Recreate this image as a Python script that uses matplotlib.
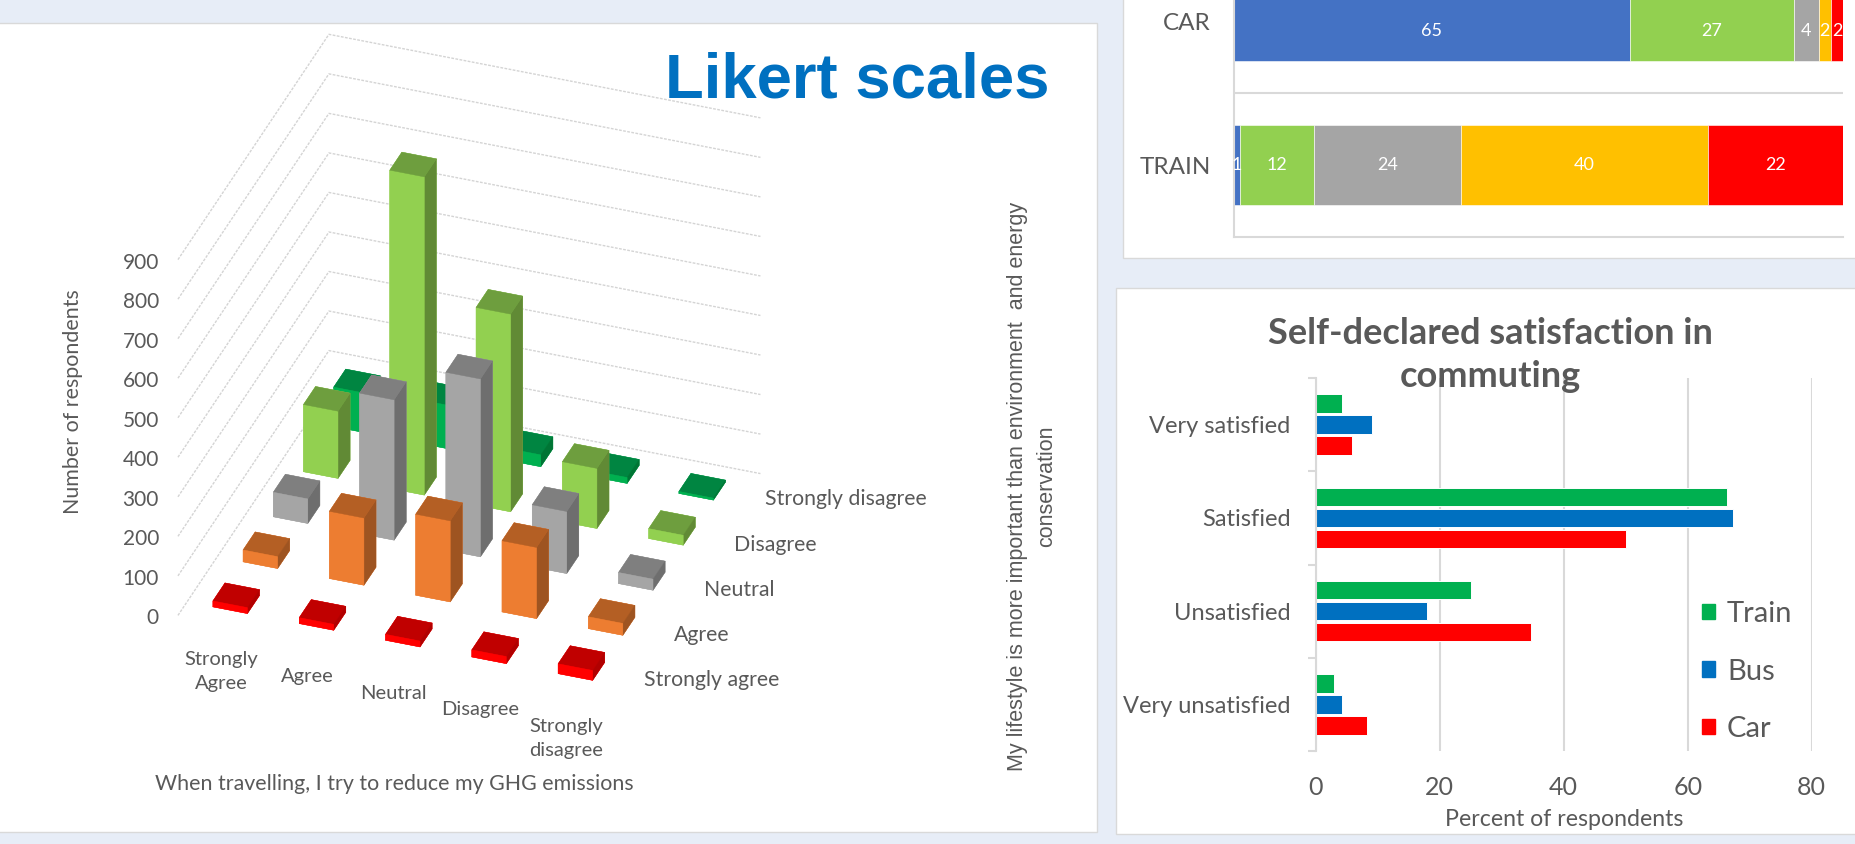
import numpy as np
import matplotlib
matplotlib.use('Agg')
import matplotlib.pyplot as plt
from matplotlib.patches import Rectangle, Patch
from mpl_toolkits.mplot3d import proj3d

# --- 3D Likert chart: respondents per cell
likert_cols = ['Strongly\nAgree', 'Agree', 'Neutral', 'Disagree', 'Strongly\ndisagree']
likert_rows = ['Strongly agree', 'Agree', 'Neutral', 'Disagree', 'Strongly disagree']
row_strongly_agree = [15, 15, 15, 18, 25]
row_agree = [30, 170, 205, 180, 30]
row_neutral = [62, 355, 450, 157, 28]
row_disagree = [170, 805, 500, 152, 25]
row_strongly_disagree = [100, 110, 30, 15, 5]
z_ticks = [0, 100, 200, 300, 400, 500, 600, 700, 800, 900]

# --- stacked bars (top right)
stack_labels = ['TRAIN', 'CAR']
car_values = [65, 27, 4, 2, 2]
train_values = [1, 12, 24, 40, 22]

# --- satisfaction bars (bottom right)
satisfaction = ['Very satisfied', 'Satisfied', 'Unsatisfied', 'Very unsatisfied']
train_pct = [4.2, 66.3, 25.0, 2.9]
bus_pct = [9.0, 67.3, 17.9, 4.2]
car_pct = [5.8, 50.1, 34.7, 8.2]
pct_ticks = [0, 20, 40, 60, 80]

W, H = 1855, 844
TXT = '#595959'
LINE = '#D9D9D9'
plt.rcParams['font.family'] = ['Lato', 'DejaVu Sans']


def rect(l, t, r, b):
    return [l / W, 1 - b / H, (r - l) / W, (b - t) / H]


def panel(l, t, r, b):
    x0, y0, w, h = rect(l, t, r, b)
    fig.add_artist(Rectangle((x0, y0), w, h, transform=fig.transFigure,
                             fc='white', ec=LINE, lw=1, zorder=-1))


def label(x, y, s, **kw):
    kw.setdefault('color', TXT)
    return fig.text(x / W, 1 - y / H, s, **kw)


def label3d(x, y, z, s, **kw):
    # text placed at a 3D data point, but stored as plain 2D text
    x2, y2, _ = proj3d.proj_transform(x, y, z, ax.get_proj())
    return ax.text2D(x2, y2, s, transform=ax.transData, color=TXT, **kw)


fig = plt.figure(figsize=(W / 100, H / 100), dpi=100, facecolor='#E7EDF7')
panel(-5, 23, 1097, 832)
panel(1123, -5, 1860, 258)
panel(1116, 288, 1860, 834)

# 3D chart
ax = fig.add_axes(rect(87.3, 4.8, 831, 748.5), projection='3d', computed_zorder=False)
ax.patch.set_visible(False)
ax.set_proj_type('ortho')
ax.view_init(elev=32.5, azim=-70.2)
ax.set_box_aspect((458.6, 445.6, 421.8))
ax.set_axis_off()

grid_x = [-0.5, -0.5, 4.5]
grid_y = [-0.5, 4.5, 4.5]
for z in z_ticks:
    ax.plot(grid_x, grid_y, [z, z, z], color='#D4D4D4', lw=1, ls=(0, (2, 1)), zorder=1)

rows = [row_strongly_agree, row_agree, row_neutral, row_disagree, row_strongly_disagree]
# front, top, right face colours per row
row_faces = [('#FF0000', '#C00000', '#B00000'),
             ('#ED7D31', '#B45F24', '#9E5421'),
             ('#A5A5A5', '#7F7F7F', '#6E6E6E'),
             ('#92D050', '#6E9E3E', '#618A35'),
             ('#00B050', '#008541', '#007535')]
order = 10
for j in range(4, -1, -1):
    front, top, side = row_faces[j]
    # bottom, top, front, back, left, right
    faces = [front, top, front, front, front, side]
    for i in range(5):
        ax.bar3d(i - 0.2, j - 0.2, 0, 0.4, 0.4, rows[j][i], color=faces, edgecolor=faces,
                 linewidth=0.3, shade=False, zorder=order)
        order += 1

ax.set_xlim(-0.5, 4.5)
ax.set_ylim(-0.5, 4.5)
ax.set_zlim(0, 900)

for z in z_ticks:
    label3d(-0.675, -0.63, z, str(z), ha='right', va='center', fontsize=15)
for i, s in enumerate(likert_cols):
    label3d(i + 0.187, -1.043, 0, s, ha='center', va='top', ma='center', fontsize=14.5, linespacing=1.5)
for j, s in enumerate(likert_rows):
    label3d(4.72, j + 0.007, 0, s, ha='left', va='center', fontsize=15.3)

label(73, 402, 'Number of respondents', rotation=90, ha='center', va='center', fontsize=15.4)
label(394, 784, 'When travelling, I try to reduce my GHG emissions', ha='center', va='center', fontsize=15.4)
label(1032, 486, 'My lifestyle is more important than environment  and energy\nconservation', rotation=90,
      ha='center', va='center', ma='center', fontsize=15.5, family='Liberation Sans', linespacing=1.55)
label(857, 97, 'Likert scales', ha='center', va='baseline', fontsize=45.7, fontweight='bold',
      color='#0070C0', family='Liberation Sans')

# stacked bars
ax2 = fig.add_axes(rect(1233.5, 0, 1843, 237))
stack_colors = ['#4472C4', '#92D050', '#A5A5A5', '#FFC000', '#FF0000']
raw = np.array([train_values, car_values], dtype=float)
share = raw / raw.sum(axis=1, keepdims=True) * 100
left = np.zeros(2)
for k in range(5):
    bars = ax2.barh([0, 1], share[:, k], left=left, height=0.556, color=stack_colors[k],
                    edgecolor='white', linewidth=0.4)
    ax2.bar_label(bars, labels=[str(v) for v in raw[:, k].astype(int)], label_type='center',
                  color='white', fontsize=13)
    left += share[:, k]
ax2.set_xlim(0, 100)
ax2.set_ylim(-0.5, 1.146)
ax2.axhline(0.5, color=LINE, lw=1.5)
ax2.set_xticks([])
ax2.set_yticks([0, 1], stack_labels)
ax2.tick_params(axis='y', length=0, pad=16.5, labelsize=17.5, labelcolor=TXT)
for side in ['top', 'right']:
    ax2.spines[side].set_visible(False)
for side in ['left', 'bottom']:
    ax2.spines[side].set_color(LINE)
    ax2.spines[side].set_linewidth(1.5)

# satisfaction bars
ax3 = fig.add_axes(rect(1315.7, 378, 1811.7, 751))
pos = np.arange(4)
ax3.barh(pos - 0.225, train_pct, height=0.2, color='#00B050', edgecolor='white', linewidth=0.7)
ax3.barh(pos, bus_pct, height=0.2, color='#0070C0', edgecolor='white', linewidth=0.7)
ax3.barh(pos + 0.225, car_pct, height=0.2, color='#FF0000', edgecolor='white', linewidth=0.7)
ax3.set_xlim(0, 80)
ax3.set_ylim(3.5, -0.5)
ax3.set_axisbelow(True)
ax3.grid(axis='x', color=LINE, lw=1.5)
ax3.set_xticks(pct_ticks)
ax3.set_yticks(np.arange(-0.5, 4), [])
ax3.set_yticks(pos, satisfaction, minor=True)
ax3.tick_params(axis='y', which='major', length=6, color=LINE, width=1.5)
ax3.tick_params(axis='y', which='minor', length=0, pad=18, labelsize=17, labelcolor=TXT)
ax3.tick_params(axis='x', length=0, pad=18, labelsize=18, labelcolor=TXT)
for side in ['top', 'right', 'bottom']:
    ax3.spines[side].set_visible(False)
ax3.spines['left'].set_color(LINE)
ax3.spines['left'].set_linewidth(1.5)
ax3.legend(handles=[Patch(color='#00B050', label='Train'), Patch(color='#0070C0', label='Bus'),
                    Patch(color='#FF0000', label='Car')],
           loc='center left', bbox_to_anchor=((1702 - 1315.7) / 496, (751 - 671.5) / 373), frameon=False,
           fontsize=21, labelcolor=TXT, handlelength=0.45, handleheight=0.45, handletextpad=0.41,
           labelspacing=1.08, borderpad=0, borderaxespad=0)
label(1564, 820, 'Percent of respondents', ha='center', va='center', fontsize=16.7)
label(1490, 355, 'Self-declared satisfaction in\ncommuting', ha='center', va='center', ma='center',
      fontsize=26, fontweight='bold', linespacing=1.36)

fig.savefig('out.png', dpi=100, facecolor=fig.get_facecolor())
